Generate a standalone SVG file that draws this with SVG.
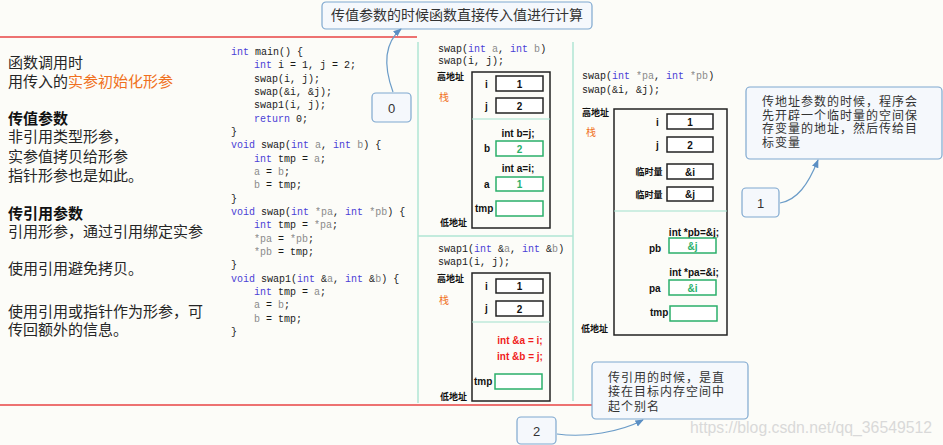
<svg xmlns="http://www.w3.org/2000/svg" width="943" height="445" viewBox="0 0 943 445">
<style>
.bg{fill:#fcfcf8}
.cn{font-family:"Liberation Sans","Noto Sans CJK SC",sans-serif;font-size:15px;fill:#262626}
.cnb{font-weight:bold;fill:#111}
.or{fill:#f07020}
.code{font-family:"Liberation Mono","DejaVu Sans Mono",monospace;font-size:10px;fill:#1a1a1a}
.kw{fill:#4a3fd6}
.pm{fill:#8a8a8a}
.lbl{font-family:"Liberation Sans",Arial,sans-serif;font-size:10px;font-weight:bold;fill:#111}
.addr{font-family:"Noto Sans CJK SC",sans-serif;font-size:9px;font-weight:bold;fill:#111}
.zhan{font-family:"Noto Sans CJK SC",sans-serif;font-size:10px;fill:#f07020}
.stack{fill:none;stroke:#222;stroke-width:1.5}
.bk{fill:#fff;stroke:#222;stroke-width:1.5}
.gb{fill:#fff;stroke:#2aaf6a;stroke-width:1.5}
.gt{fill:#2aaf6a}
.sep{stroke:#9fe0cc;stroke-width:1.2}
.red{stroke:#e84545;stroke-width:1.5}
.vl{stroke:#b0e6d4;stroke-width:1.5}
.rt{font-family:"Liberation Sans",Arial,sans-serif;font-size:10px;font-weight:bold;fill:#f01c1c}
.cb{fill:#f5f8fc;stroke:#7fa8cf;stroke-width:1.2}
.ct{font-family:"Noto Sans CJK SC","Noto Sans",sans-serif;font-size:12px;letter-spacing:1px;fill:#333}
.ct2{font-family:"Liberation Sans","Noto Sans CJK SC",sans-serif;font-size:12px;letter-spacing:1px;fill:#333}
.num{font-family:"Liberation Sans",Arial,sans-serif;font-size:13px;fill:#333}
.conn{fill:none;stroke:#6b9cc8;stroke-width:1.2}
</style>
<defs>
<marker id="ah" viewBox="0 0 10 10" refX="9" refY="5" markerWidth="7" markerHeight="7" orient="auto">
<path d="M0,1 L10,5 L0,9 z" fill="#5b8fc4"/>
</marker>
</defs>
<rect class="bg" x="0" y="0" width="943" height="445"/>

<g id="frame">
<line class="red" x1="0" y1="37" x2="417" y2="37"/>
<line class="red" x1="0" y1="405" x2="592" y2="405"/>
<line class="vl" x1="418" y1="42" x2="418" y2="403"/>
<line class="vl" x1="573" y1="42" x2="573" y2="401"/>
<line class="vl" x1="418" y1="236" x2="573" y2="236"/>
</g>

<g id="left-text" class="cn">
<text x="8" y="68">函数调用时</text>
<text x="8" y="87">用传入的<tspan class="or">实参初始化形参</tspan></text>
<text x="8" y="124" class="cn cnb">传值参数</text>
<text x="8" y="142">非引用类型形参，</text>
<text x="8" y="162">实参值拷贝给形参</text>
<text x="8" y="181">指针形参也是如此。</text>
<text x="8" y="219" class="cn cnb">传引用参数</text>
<text x="8" y="237">引用形参，通过引用绑定实参</text>
<text x="8" y="274">使用引用避免拷贝。</text>
<text x="8" y="317">使用引用或指针作为形参，可</text>
<text x="8" y="335">传回额外的信息。</text>
</g>

<g id="code" class="code">
<text x="231" y="55"><tspan class="kw">int</tspan> main() {</text>
<text x="254" y="68"><tspan class="kw">int</tspan> i = 1, j = 2;</text>
<text x="254" y="82">swap(i, j);</text>
<text x="254" y="95">swap(&amp;i, &amp;j);</text>
<text x="254" y="108">swap1(i, j);</text>
<text x="254" y="122"><tspan class="kw">return</tspan> 0;</text>
<text x="231" y="135">}</text>
<text x="231" y="148"><tspan class="kw">void</tspan> swap(<tspan class="kw">int</tspan> <tspan class="pm">a</tspan>, <tspan class="kw">int</tspan> <tspan class="pm">b</tspan>) {</text>
<text x="254" y="162"><tspan class="kw">int</tspan> tmp = <tspan class="pm">a</tspan>;</text>
<text x="254" y="175"><tspan class="pm">a</tspan> = <tspan class="pm">b</tspan>;</text>
<text x="254" y="188"><tspan class="pm">b</tspan> = tmp;</text>
<text x="231" y="202">}</text>
<text x="231" y="215"><tspan class="kw">void</tspan> swap(<tspan class="kw">int</tspan> <tspan class="pm">*pa</tspan>, <tspan class="kw">int</tspan> <tspan class="pm">*pb</tspan>) {</text>
<text x="254" y="228"><tspan class="kw">int</tspan> tmp = <tspan class="pm">*pa</tspan>;</text>
<text x="254" y="242"><tspan class="pm">*pa</tspan> = <tspan class="pm">*pb</tspan>;</text>
<text x="254" y="255"><tspan class="pm">*pb</tspan> = tmp;</text>
<text x="231" y="268">}</text>
<text x="231" y="282"><tspan class="kw">void</tspan> swap1(<tspan class="kw">int</tspan> &amp;<tspan class="pm">a</tspan>, <tspan class="kw">int</tspan> &amp;<tspan class="pm">b</tspan>) {</text>
<text x="254" y="295"><tspan class="kw">int</tspan> tmp = <tspan class="pm">a</tspan>;</text>
<text x="254" y="308"><tspan class="pm">a</tspan> = <tspan class="pm">b</tspan>;</text>
<text x="254" y="322"><tspan class="pm">b</tspan> = tmp;</text>
<text x="231" y="335">}</text>
</g>

<g id="panel-swap-value">
<text class="code" x="438" y="52">swap(<tspan class="kw">int</tspan> <tspan class="pm">a</tspan>, <tspan class="kw">int</tspan> <tspan class="pm">b</tspan>)</text>
<text class="code" x="438" y="64">swap(i, j);</text>
<text class="addr" x="437" y="80">高地址</text>
<text class="zhan" x="439" y="101">栈</text>
<rect class="stack" x="472" y="72" width="78" height="156"/>
<line class="sep" x1="472" y1="119" x2="550" y2="119"/>
<text class="lbl" x="485" y="88">i</text>
<rect class="bk" x="496" y="76" width="47" height="15"/>
<text class="lbl" x="519.5" y="87.5" text-anchor="middle">1</text>
<text class="lbl" x="485" y="110">j</text>
<rect class="bk" x="496" y="98" width="47" height="15"/>
<text class="lbl" x="519.5" y="109.5" text-anchor="middle">2</text>
<text class="lbl" x="518" y="136.5" text-anchor="middle">int b=j;</text>
<text class="lbl" x="484" y="152">b</text>
<rect class="gb" x="496" y="141" width="47" height="15"/>
<text class="lbl gt" x="519.5" y="152.5" text-anchor="middle">2</text>
<text class="lbl" x="518" y="171.5" text-anchor="middle">int a=i;</text>
<text class="lbl" x="484" y="188">a</text>
<rect class="gb" x="496" y="177" width="47" height="14"/>
<text class="lbl gt" x="519.5" y="188" text-anchor="middle">1</text>
<text class="lbl" x="475" y="212">tmp</text>
<rect class="gb" x="496" y="201" width="47" height="15"/>
<text class="addr" x="440" y="226">低地址</text>
</g>

<g id="panel-swap1-ref">
<text class="code" x="438" y="252">swap1(<tspan class="kw">int</tspan> &amp;<tspan class="pm">a</tspan>, <tspan class="kw">int</tspan> &amp;<tspan class="pm">b</tspan>)</text>
<text class="code" x="438" y="265">swap1(i, j);</text>
<text class="addr" x="437" y="282">高地址</text>
<text class="zhan" x="439" y="304">栈</text>
<rect class="stack" x="472" y="273" width="78" height="128"/>
<line class="sep" x1="472" y1="322" x2="550" y2="322"/>
<text class="lbl" x="485" y="290">i</text>
<rect class="bk" x="496" y="279" width="47" height="14"/>
<text class="lbl" x="519.5" y="290" text-anchor="middle">1</text>
<text class="lbl" x="485" y="312">j</text>
<rect class="bk" x="496" y="301" width="47" height="15"/>
<text class="lbl" x="519.5" y="312.5" text-anchor="middle">2</text>
<text class="rt" x="520" y="343.5" text-anchor="middle">int &amp;a = i;</text>
<text class="rt" x="520" y="359.5" text-anchor="middle">int &amp;b = j;</text>
<text class="lbl" x="474" y="385">tmp</text>
<rect class="gb" x="495" y="374" width="47" height="15"/>
<text class="addr" x="440" y="400">低地址</text>
</g>

<g id="panel-swap-ptr">
<text class="code" x="582" y="79">swap(<tspan class="kw">int</tspan> <tspan class="pm">*pa</tspan>, <tspan class="kw">int</tspan> <tspan class="pm">*pb</tspan>)</text>
<text class="code" x="582" y="93">swap(&amp;i, &amp;j);</text>
<text class="addr" x="582" y="116">高地址</text>
<text class="zhan" x="586" y="136">栈</text>
<rect class="stack" x="614" y="109" width="113" height="226"/>
<line class="sep" x1="614" y1="211" x2="727" y2="211"/>
<text class="lbl" x="656" y="125.5">i</text>
<rect class="bk" x="667" y="114" width="46" height="15"/>
<text class="lbl" x="690" y="125.5" text-anchor="middle">1</text>
<text class="lbl" x="656" y="148.5">j</text>
<rect class="bk" x="667" y="137" width="46" height="15"/>
<text class="lbl" x="690" y="148.5" text-anchor="middle">2</text>
<text class="addr" x="649" y="175" text-anchor="middle">临时量</text>
<rect class="bk" x="667" y="164" width="46" height="15"/>
<text class="lbl" x="690" y="175.5" text-anchor="middle">&amp;i</text>
<text class="addr" x="649" y="198" text-anchor="middle">临时量</text>
<rect class="bk" x="667" y="187" width="46" height="14"/>
<text class="lbl" x="690" y="198" text-anchor="middle">&amp;j</text>
<text class="lbl" x="694" y="235.5" text-anchor="middle">int *pb=&amp;j;</text>
<text class="lbl" x="649" y="251.5">pb</text>
<rect class="gb" x="669" y="238" width="47" height="15"/>
<text class="lbl gt" x="692.5" y="249.5" text-anchor="middle">&amp;j</text>
<text class="lbl" x="694" y="275.5" text-anchor="middle">int *pa=&amp;i;</text>
<text class="lbl" x="649" y="291.5">pa</text>
<rect class="gb" x="669" y="280" width="47" height="15"/>
<text class="lbl gt" x="692.5" y="291.5" text-anchor="middle">&amp;i</text>
<text class="lbl" x="650" y="316">tmp</text>
<rect class="gb" x="670" y="306" width="47" height="15"/>
<text class="addr" x="581" y="332">低地址</text>
</g>

<g id="callout-value">
<rect class="cb" x="322" y="2" width="270" height="27" rx="4"/>
<text class="ct" x="457" y="20" text-anchor="middle" style="font-size:14px;letter-spacing:0">传值参数的时候函数直接传入值进行计算</text>
</g>
<g id="label-0">
<rect class="cb" x="372" y="93" width="39" height="29" rx="4"/>
<text class="num" x="391.5" y="112.5" text-anchor="middle">0</text>
</g>

<g id="callout-ptr">
<rect class="cb" x="746" y="87" width="196" height="72" rx="4"/>
<text class="ct2" x="762" y="106">传地址参数的时候，程序会</text>
<text class="ct2" x="762" y="119.5">先开辟一个临时量的空间保</text>
<text class="ct2" x="762" y="133">存变量的地址，然后传给目</text>
<text class="ct2" x="762" y="146.5">标变量</text>
</g>
<g id="label-1">
<rect class="cb" x="742" y="188" width="37" height="29" rx="4"/>
<text class="num" x="760.5" y="207.5" text-anchor="middle">1</text>
</g>

<g id="callout-ref">
<rect class="cb" x="592" y="362" width="156" height="57" rx="4"/>
<text class="ct2" x="608" y="381.5">传引用的时候，是直</text>
<text class="ct2" x="608" y="396">接在目标内存空间中</text>
<text class="ct2" x="608" y="410.5">起个别名</text>
</g>
<g id="label-2">
<rect class="cb" x="517" y="417" width="39" height="27" rx="4"/>
<text class="num" x="536.5" y="435.5" text-anchor="middle">2</text>
</g>

<g id="connectors">
<path class="conn" d="M393,92 C385,70 382,45 401,29" marker-end="url(#ah)"/>
<path class="conn" d="M780,203 C797,200 808,185 818,160" marker-end="url(#ah)"/>
<path class="conn" d="M557,434 C585,438 620,432 643,420" marker-end="url(#ah)"/>
</g>

<text x="690" y="433" textLength="242" lengthAdjust="spacingAndGlyphs" style="font-family:'Liberation Sans',Arial,sans-serif;font-size:16px;fill:#d9d9d9">https://blog.csdn.net/qq_36549512</text>
</svg>
